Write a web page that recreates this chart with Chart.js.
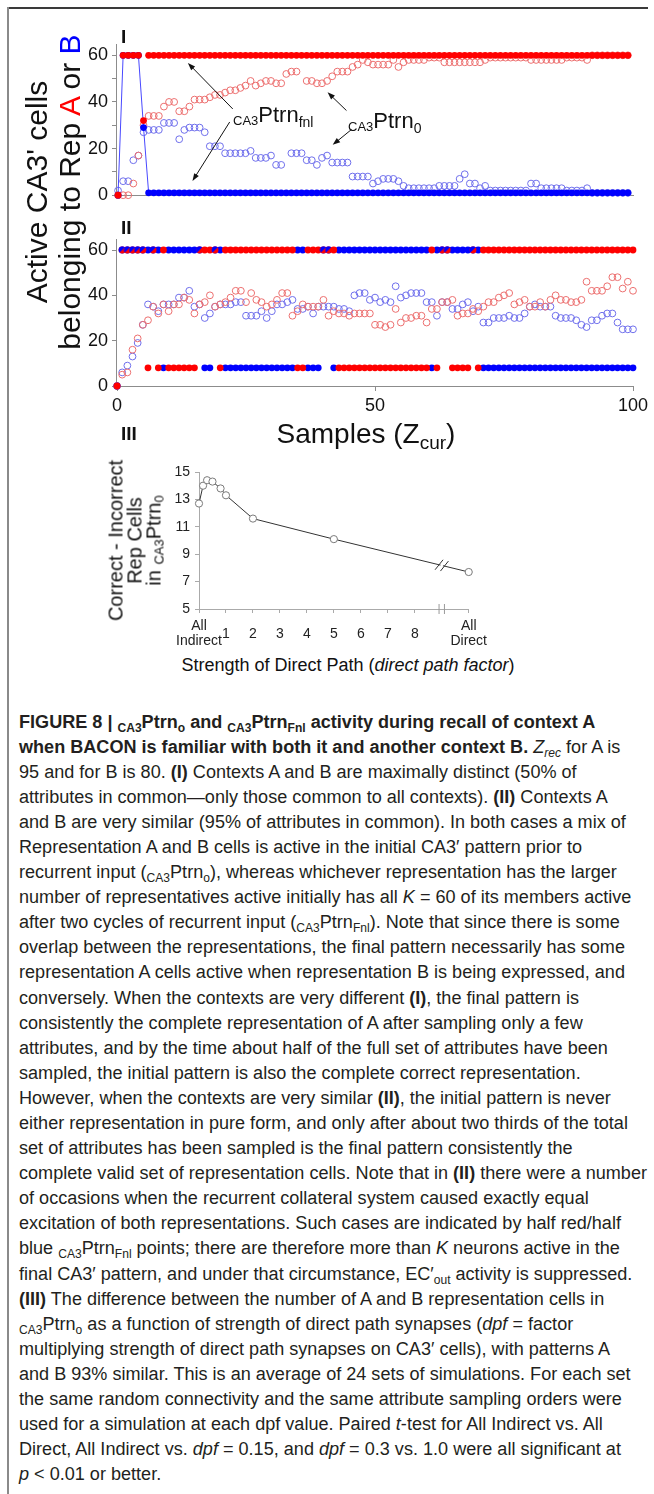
<!DOCTYPE html>
<html lang="en">
<head>
<meta charset="UTF-8">
<title>Figure 8 - CA3Ptrn activity</title>
<script src="https://cdn.jsdelivr.net/npm/chart.js"></script>
<style>
  body { margin: 0; background: #fff; font-family: "Liberation Sans", Arial, sans-serif; color: #111; }
  #page { position: relative; width: 654px; height: 1494px; overflow: hidden; }
  .abs { position: absolute; }
  canvas { position: absolute; }
  .frameTop { left: 7px; top: 7px; width: 641px; height: 2px; background: #3a3a3a; }
  .frameLeft { left: 7px; top: 7px; width: 2px; height: 1487px; background: #8a8a8a; }
  .plabel { font-weight: bold; font-size: 19px; line-height: 1; }
  .ytitle { font-size: 30px; line-height: 33px; text-align: center; white-space: nowrap; transform: rotate(-90deg); }
  .ytitle3 { font-size: 20px; line-height: 19px; text-align: center; white-space: nowrap; transform: rotate(-90deg); }
  .ytitle3 sub { font-size: 13px; line-height: 0; vertical-align: -3px; }
  .xtitle { text-align: center; white-space: nowrap; line-height: 1; }
  .xtitle sub { font-size: 19px; line-height: 0; vertical-align: -6px; }
  .ann { font-size: 22px; line-height: 1; white-space: nowrap; }
  .ann .pre { font-size: 13px; position: relative; top: 3px; }
  .ann .sb { font-size: 14px; position: relative; top: 5px; }
  .cap { left: 19px; top: 709.5px; transform-origin: 0 0; color: #231f20; font-size: 18px; }
  .cap .ln { white-space: nowrap; height: 25.1px; line-height: 25.1px; width: max-content; }
  .cap sub { font-size: 12px; line-height: 0; vertical-align: -4px; }
</style>
</head>
<body>
<div id="page">
  <div class="abs frameTop"></div>
  <div class="abs frameLeft"></div>

  <canvas id="panel1" width="654" height="180" style="left:0;top:30px"></canvas>
  <canvas id="panel2" width="654" height="195" style="left:0;top:225px"></canvas>
  <canvas id="panel3" width="340" height="200" style="left:160px;top:455px"></canvas>

  <div class="abs plabel" style="left:121px;top:27px">I</div>
  <div class="abs plabel" style="left:121px;top:218px">II</div>
  <div class="abs plabel" style="left:121px;top:424px">III</div>

  <div class="abs ytitle" style="left:-147px;top:159px;width:400px;height:66px">Active CA3' cells<br>belonging to Rep <span style="color:#f00">A</span> or <span style="color:#00f">B</span></div>
  <div class="abs xtitle" style="left:166px;top:420px;width:400px;font-size:28px">Samples (Z<sub>cur</sub>)</div>

  <div class="abs ann" style="left:233px;top:104px"><span class="pre">CA3</span>Ptrn<span class="sb">fnl</span></div>
  <div class="abs ann" style="left:348px;top:110px"><span class="pre">CA3</span>Ptrn<span class="sb">0</span></div>

  <div class="abs ytitle3" style="left:35px;top:512px;width:200px;height:57px">Correct - Incorrect<br>Rep Cells<br>in <sub>CA3</sub>Ptrn<sub>0</sub></div>
  <div class="abs xtitle" style="left:148px;top:656px;width:400px;font-size:18px">Strength of Direct Path (<i>direct path factor</i>)</div>

  <div class="abs cap" id="caption">
    <div class="ln"><b>FIGURE 8 | <sub>CA3</sub>Ptrn<sub>o</sub> and <sub>CA3</sub>Ptrn<sub>Fnl</sub> activity during recall of context A</b></div>
    <div class="ln"><b>when BACON is familiar with both it and another context B.</b> <i>Z<sub>rec</sub></i> for A is</div>
    <div class="ln">95 and for B is 80. <b>(I)</b> Contexts A and B are maximally distinct (50% of</div>
    <div class="ln">attributes in common—only those common to all contexts). <b>(II)</b> Contexts A</div>
    <div class="ln">and B are very similar (95% of attributes in common). In both cases a mix of</div>
    <div class="ln">Representation A and B cells is active in the initial CA3′ pattern prior to</div>
    <div class="ln">recurrent input (<sub>CA3</sub>Ptrn<sub>o</sub>), whereas whichever representation has the larger</div>
    <div class="ln">number of representatives active initially has all <i>K</i> = 60 of its members active</div>
    <div class="ln">after two cycles of recurrent input (<sub>CA3</sub>Ptrn<sub>Fnl</sub>). Note that since there is some</div>
    <div class="ln">overlap between the representations, the final pattern necessarily has some</div>
    <div class="ln">representation A cells active when representation B is being expressed, and</div>
    <div class="ln">conversely. When the contexts are very different <b>(I)</b>, the final pattern is</div>
    <div class="ln">consistently the complete representation of A after sampling only a few</div>
    <div class="ln">attributes, and by the time about half of the full set of attributes have been</div>
    <div class="ln">sampled, the initial pattern is also the complete correct representation.</div>
    <div class="ln">However, when the contexts are very similar <b>(II)</b>, the initial pattern is never</div>
    <div class="ln">either representation in pure form, and only after about two thirds of the total</div>
    <div class="ln">set of attributes has been sampled is the final pattern consistently the</div>
    <div class="ln">complete valid set of representation cells. Note that in <b>(II)</b> there were a number</div>
    <div class="ln">of occasions when the recurrent collateral system caused exactly equal</div>
    <div class="ln">excitation of both representations. Such cases are indicated by half red/half</div>
    <div class="ln">blue <sub>CA3</sub>Ptrn<sub>Fnl</sub> points; there are therefore more than <i>K</i> neurons active in the</div>
    <div class="ln">final CA3′ pattern, and under that circumstance, EC′<sub>out</sub> activity is suppressed.</div>
    <div class="ln"><b>(III)</b> The difference between the number of A and B representation cells in</div>
    <div class="ln"><sub>CA3</sub>Ptrn<sub>o</sub> as a function of strength of direct path synapses (<i>dpf</i> = factor</div>
    <div class="ln">multiplying strength of direct path synapses on CA3′ cells), with patterns A</div>
    <div class="ln">and B 93% similar. This is an average of 24 sets of simulations. For each set</div>
    <div class="ln">the same random connectivity and the same attribute sampling orders were</div>
    <div class="ln">used for a simulation at each dpf value. Paired <i>t</i>-test for All Indirect vs. All</div>
    <div class="ln">Direct, All Indirect vs. <i>dpf</i> = 0.15, and <i>dpf</i> = 0.3 vs. 1.0 were all significant at</div>
    <div class="ln"><i>p</i> &lt; 0.01 or better.</div>
  </div>
</div>

<script>
  // ---- Panel I: contexts maximally distinct (value per sample 0..100)
  const iFnlA = [
    0, 60, 60, 60, 60, 32, 60, 60, 60, 60,
    60, 60, 60, 60, 60, 60, 60, 60, 60, 60,
    60, 60, 60, 60, 60, 60, 60, 60, 60, 60,
    60, 60, 60, 60, 60, 60, 60, 60, 60, 60,
    60, 60, 60, 60, 60, 60, 60, 60, 60, 60,
    60, 60, 60, 60, 60, 60, 60, 60, 60, 60,
    60, 60, 60, 60, 60, 60, 60, 60, 60, 60,
    60, 60, 60, 60, 60, 60, 60, 60, 60, 60,
    60, 60, 60, 60, 60, 60, 60, 60, 60, 60,
    60, 60, 60, 60, 60, 60, 60, 60, 60, 60,
    60];
  const iFnlB = [
    0, 60, 60, 60, 60, 29, 1, 1, 1, 1,
    1, 1, 1, 1, 1, 1, 1, 1, 1, 1,
    1, 1, 1, 1, 1, 1, 1, 1, 1, 1,
    1, 1, 1, 1, 1, 1, 1, 1, 1, 1,
    1, 1, 1, 1, 1, 1, 1, 1, 1, 1,
    1, 1, 1, 1, 1, 1, 1, 1, 1, 1,
    1, 1, 1, 1, 1, 1, 1, 1, 1, 1,
    1, 1, 1, 1, 1, 1, 1, 1, 1, 1,
    1, 1, 1, 1, 1, 1, 1, 1, 1, 1,
    1, 1, 1, 1, 1, 1, 1, 1, 1, 1,
    1];
  const iP0A = [
    0, 0, 0, 5, 17, 30, 34, 34, 34, 38,
    40, 40, 36, 36, 38, 41, 41, 41, 42, 43,
    43, 44, 45, 45, 46, 47, 49, 47, 48, 49,
    49, 48, 48, 52, 53, 53, null, 49, 49, 48,
    48, 49, 51, 53, 53, 53, 55, 56, 58, 57,
    56, 56, 56, 56, 58, 55, 57, 58, 58, 58,
    58, 59, 59, 59, 57, 57, 57, 57, 57, 57,
    57, 57, 58, 59, 59, 59, 59, 59, 59, 59,
    59, 58, 58, 58, 58, 58, 58, 58, 59, 59,
    59, 59, 58, 60, 60, 60, 60, 60, 60, 60,
    60];
  const iP0B = [
    2, 6, 6, 15, 17, 27, 28, 28, 28, 31,
    31, 31, 24, 28, 29, 29, 29, 27, 21, 21,
    21, 18, 18, 18, 18, 18, 19, 16, 16, 16,
    17, 13, 13, null, 18, 18, 18, 15, 15, 13,
    16, 17, 14, 14, 14, 14, 8, 8, 8, 8,
    5, 6, 7, 7, 7, 6, 4, 3, 3, 3,
    3, 3, 3, 4, 4, 4, 4, 7, 9, 5,
    5, 3, 4, 2, 2, 2, 2, 2, 2, 2,
    2, 5, 5, 3, 3, 3, 3, 3, 2, 2,
    2, 2, 3, 1, 1, 1, 1, 1, 1, 1,
    1];

  // ---- Panel II: contexts very similar
  const iiFnlA = [
    0, 60, 60, 60, 60, 60, 8, 60, 8, 60,
    8, 8, 8, 8, 8, 8, 60, 60, 60, 60,
    8, 60, 60, 60, 60, 60, 60, 60, 60, 60,
    60, 60, 60, 60, 60, 8, 8, 60, 60, 60,
    60, 60, 60, 8, 8, 8, 8, 8, 8, 8,
    8, 8, 8, 8, 8, 8, 8, 8, 8, 8,
    8, 60, 8, 60, 60, 8, 8, 8, 8, 60,
    8, 60, 60, 60, 60, 60, 60, 60, 60, 60,
    60, 60, 60, 60, 60, 60, 60, 60, 60, 60,
    60, 60, 60, 60, 60, 60, 60, 60, 60, 60,
    60];
  const iiFnlB = [
    0, 60, 60, 60, 60, 60, 60, 60, 60, 8,
    60, 60, 60, 60, 60, 60, 60, 8, 8, 60,
    60, 8, 8, 8, 8, 8, 8, 8, 8, 8,
    8, 8, 8, 8, 8, 60, 60, 8, 8, 8,
    60, 60, 8, 60, 60, 60, 60, 60, 60, 60,
    60, 60, 60, 60, 60, 60, 60, 60, 60, 60,
    60, 8, 60, 60, 60, 60, 60, 60, 60, 60,
    60, 8, 8, 8, 8, 8, 8, 8, 8, 8,
    8, 8, 8, 8, 8, 8, 8, 8, 8, 8,
    8, 8, 8, 8, 8, 8, 8, 8, 8, 8,
    8];
  const iiP0A = [
    0, 5, 6, 16, 21, 27, 29, 35, 32, 36,
    33, 36, 36, 39, 38, 32, 36, 37, 40, 35,
    36, 37, 39, 42, 42, 37, 41, 38, 37, 35,
    36, 38, 41, 41, 31, 33, 36, 35, 35, 35,
    38, 31, 33, 32, 32, 31, 32, 32, 32, 32,
    27, 27, 26, 27, 34, 28, 30, 30, 31, 31,
    28, 34, 34, 37, 37, 38, 31, 32, 32, 34,
    33, 35, 37, 37, 39, 40, 41, 36, 37, 38,
    35, 35, 37, 35, 38, 40, 38, 38, 37, 37,
    38, 46, 42, 42, 42, 44, 48, 48, 43, 46,
    42];
  const iiP0B = [
    0, 6, 9, 13, 19, 27, 36, 35, 33, 36,
    36, 36, 39, 39, 42, 35, 36, 30, 32, 35,
    36, 36, 36, 37, 37, 31, 31, 31, 33, 30,
    33, 36, 36, 37, 38, 34, 34, 35, 32, 35,
    35, 35, 35, 34, 34, 33, 40, 41, 41, 38,
    39, 37, 38, 37, 44, 39, 40, 41, 41, 41,
    37, 37, 31, 37, 37, 34, 34, 36, 37, 33,
    35, 28, 28, 30, 30, 30, 31, 30, 30, 32,
    35, 36, 35, 35, 35, 31, 30, 30, 30, 29,
    27, 26, 29, 29, 31, 32, 32, 28, 25, 25,
    25];

  const yTicksAB = [0, 10, 20, 30, 40, 50, 60];
  const xTicksII = [0, 50, 100];

  // ---- Panel III: direct path factor vs correct - incorrect cells
  const dpfPos = [0, 0.15, 0.3, 0.5, 0.8, 1, 2, 5, 10];   // 10 = "All Direct"
  const diffCells = [12.7, 14.0, 14.4, 14.3, 13.8, 13.3, 11.6, 10.1, 7.7];
  const xTicksIII = [0, 1, 2, 3, 4, 5, 6, 7, 8, 10];
  const xLabelsIII = [['All', 'Indirect'], '1', '2', '3', '4', '5', '6', '7', '8', ['All', 'Direct']];
  const yTicksIII = [5, 7, 9, 11, 13, 15];
  const breakAt = [8.9, 9.1];

  // arrows in panel I: [fromSample, fromValue, toSample, toValue]
  const arrowsI = [
    [22.5, 37, 13.7, 56.7],
    [21.9, 31.4, 14.6, 6.1],
    [44.8, 36.3, 41.1, 44.1],
    [45.8, 28.2, 42.1, 21.6]
  ];

  const RED = '#ff0000', BLUE = '#0000ff';
  const RED_OPEN = '#ec6f6f', BLUE_OPEN = '#6f6fec';
  const AXIS = '#8c8c8c';

  Chart.defaults.font.family = "'Liberation Sans', Arial, sans-serif";
  Chart.defaults.color = '#111';
  Chart.defaults.animation = false;

  const xy = arr => arr.map((v, i) => ({ x: i, y: v }));

  function halfDot(r) {
    const s = Math.ceil(r * 2) + 1;
    const c = document.createElement('canvas');
    c.width = c.height = s;
    const g = c.getContext('2d');
    g.beginPath();
    g.arc(s / 2, s / 2, r, 0, Math.PI * 2);
    g.clip();
    g.fillStyle = RED;
    g.fillRect(0, 0, s, s);
    g.fillStyle = BLUE;
    g.beginPath();
    g.moveTo(0, 0); g.lineTo(s, 0); g.lineTo(0, s);
    g.closePath();
    g.fill();
    return c;
  }
  const halfStyle = halfDot(3.4);

  function filled(data, color, extra) {
    return Object.assign({
      data: xy(data), showLine: false, clip: false,
      pointRadius: 3.4, pointBackgroundColor: color, pointBorderWidth: 0, borderColor: color
    }, extra || {});
  }
  function open(data, color) {
    return {
      data: xy(data), showLine: false, clip: false,
      pointRadius: 3.4, pointBackgroundColor: 'rgba(0,0,0,0)', pointBorderColor: color, pointBorderWidth: 1
    };
  }

  function abScales(xmin, xmax, showX, xH) {
    return {
      x: {
        type: 'linear', min: xmin, max: xmax,
        afterBuildTicks: s => { s.ticks = (showX ? xTicksII : []).map(v => ({ value: v })); },
        afterFit: s => { s.height = xH; },
        border: { display: true, color: AXIS, width: 1 },
        grid: { display: showX, drawOnChartArea: false, drawTicks: true, tickLength: 5, color: AXIS },
        ticks: { display: showX, padding: 4, font: { size: 18 }, maxRotation: 0 }
      },
      y: {
        min: 0, max: 64.5,
        afterBuildTicks: s => { s.ticks = yTicksAB.map(v => ({ value: v })); },
        afterFit: s => { s.width = 116; },
        border: { display: true, color: AXIS, width: 1 },
        grid: { display: true, drawOnChartArea: false, drawTicks: true, tickLength: 4, color: AXIS },
        ticks: { padding: 4, font: { size: 18 }, callback: v => (v % 20 === 0 ? v : '') }
      }
    };
  }

  const arrowPlugin = {
    id: 'arrows',
    afterDatasetsDraw(chart) {
      const { ctx, scales: { x, y } } = chart;
      ctx.save();
      ctx.strokeStyle = '#111';
      ctx.fillStyle = '#111';
      ctx.lineWidth = 1;
      arrowsI.forEach(([s0, v0, s1, v1]) => {
        const x0 = x.getPixelForValue(s0), y0 = y.getPixelForValue(v0);
        const x1 = x.getPixelForValue(s1), y1 = y.getPixelForValue(v1);
        const a = Math.atan2(y1 - y0, x1 - x0);
        ctx.beginPath();
        ctx.moveTo(x0, y0); ctx.lineTo(x1 - 5 * Math.cos(a), y1 - 5 * Math.sin(a));
        ctx.stroke();
        ctx.beginPath();
        ctx.moveTo(x1, y1);
        ctx.lineTo(x1 - 8 * Math.cos(a - 0.35), y1 - 8 * Math.sin(a - 0.35));
        ctx.lineTo(x1 - 8 * Math.cos(a + 0.35), y1 - 8 * Math.sin(a + 0.35));
        ctx.closePath();
        ctx.fill();
      });
      ctx.restore();
    }
  };

  // Panel I
  new Chart(document.getElementById('panel1'), {
    type: 'scatter',
    data: {
      datasets: [
        filled(iFnlA, RED),
        filled(iFnlB, BLUE, { showLine: true, borderColor: '#4848ff', borderWidth: 1, tension: 0 }),
        open(iP0A, RED_OPEN),
        open(iP0B, BLUE_OPEN)
      ]
    },
    options: {
      responsive: false, events: [],
      layout: { padding: { top: 13, right: 21, left: 0, bottom: 0 } },
      plugins: { legend: { display: false }, tooltip: { enabled: false } },
      scales: abScales(-0.4, 101, false, 9)
    },
    plugins: [arrowPlugin]
  });

  // Panel II
  new Chart(document.getElementById('panel2'), {
    type: 'scatter',
    data: {
      datasets: [
        filled(iiFnlA, RED, {
          pointStyle: c => (iiFnlA[c.dataIndex] === iiFnlB[c.dataIndex] && iiFnlA[c.dataIndex] > 0 ? halfStyle : 'circle')
        }),
        filled(iiFnlB, BLUE),
        open(iiP0A, RED_OPEN),
        open(iiP0B, BLUE_OPEN)
      ]
    },
    options: {
      responsive: false, events: [],
      layout: { padding: { top: 8, right: 21, left: 0, bottom: 0 } },
      plugins: { legend: { display: false }, tooltip: { enabled: false } },
      scales: abScales(-0.2, 100, true, 34)
    }
  });

  // Panel III
  const breakPlugin = {
    id: 'axisBreak',
    afterDatasetsDraw(chart) {
      const { ctx, scales: { x, y } } = chart;
      const meta = chart.getDatasetMeta(0).data;
      const p0 = meta[meta.length - 2], p1 = meta[meta.length - 1];
      ctx.save();
      // small gap in the line between the two break strokes
      const xa = x.getPixelForValue(breakAt[0]) + 1.5, xb = x.getPixelForValue(breakAt[1]) - 1.5;
      const ta = (xa - p0.x) / (p1.x - p0.x), tb = (xb - p0.x) / (p1.x - p0.x);
      ctx.strokeStyle = '#fff';
      ctx.lineWidth = 3;
      ctx.beginPath();
      ctx.moveTo(xa, p0.y + ta * (p1.y - p0.y));
      ctx.lineTo(xb, p0.y + tb * (p1.y - p0.y));
      ctx.stroke();
      breakAt.forEach(bx => {
        const px = x.getPixelForValue(bx);
        const t = (px - p0.x) / (p1.x - p0.x);
        const py = p0.y + t * (p1.y - p0.y);
        ctx.strokeStyle = '#333';
        ctx.lineWidth = 1;
        ctx.beginPath();
        ctx.moveTo(px - 4, py + 5); ctx.lineTo(px + 4, py - 5);
        ctx.stroke();
        const ay = y.getPixelForValue(5);
        ctx.strokeStyle = '#999';
        ctx.beginPath();
        ctx.moveTo(px, ay - 5); ctx.lineTo(px, ay + 5);
        ctx.stroke();
      });
      ctx.restore();
    }
  };

  new Chart(document.getElementById('panel3'), {
    type: 'scatter',
    data: {
      datasets: [{
        data: dpfPos.map((d, i) => ({ x: d, y: diffCells[i] })),
        showLine: true, tension: 0, clip: false,
        borderColor: '#333', borderWidth: 1,
        pointRadius: 3.6, pointBackgroundColor: '#fff', pointBorderColor: '#7a7a7a', pointBorderWidth: 1
      }]
    },
    options: {
      responsive: false, events: [],
      layout: { padding: { top: 17, right: 23, left: 0, bottom: 0 } },
      plugins: { legend: { display: false }, tooltip: { enabled: false } },
      scales: {
        x: {
          type: 'linear', min: 0, max: 10,
          afterBuildTicks: s => { s.ticks = xTicksIII.map(v => ({ value: v })); },
          afterFit: s => { s.height = 46; },
          border: { display: true, color: '#aaa', width: 1 },
          grid: { display: true, drawOnChartArea: false, drawTicks: true, tickLength: 4, color: '#aaa' },
          ticks: {
            padding: 13, maxRotation: 0, autoSkip: false, crossAlign: 'center',
            color: '#222', font: { size: 14, lineHeight: 1.1 },
            callback: v => xLabelsIII[xTicksIII.indexOf(v)]
          }
        },
        y: {
          min: 5, max: 15,
          afterBuildTicks: s => { s.ticks = yTicksIII.map(v => ({ value: v })); },
          afterFit: s => { s.width = 39; },
          border: { display: true, color: '#aaa', width: 1 },
          grid: { display: true, drawOnChartArea: false, drawTicks: true, tickLength: 4, color: '#aaa' },
          ticks: { padding: 5, color: '#222', font: { size: 14 } }
        }
      }
    },
    plugins: [breakPlugin]
  });

  // squeeze caption to the narrow figure-legend face
  const cap = document.getElementById('caption');
  let widest = 0;
  cap.querySelectorAll('.ln').forEach(l => { widest = Math.max(widest, l.getBoundingClientRect().width); });
  cap.style.transform = 'scaleX(' + (628 / widest) + ')';
</script>
</body>
</html>
